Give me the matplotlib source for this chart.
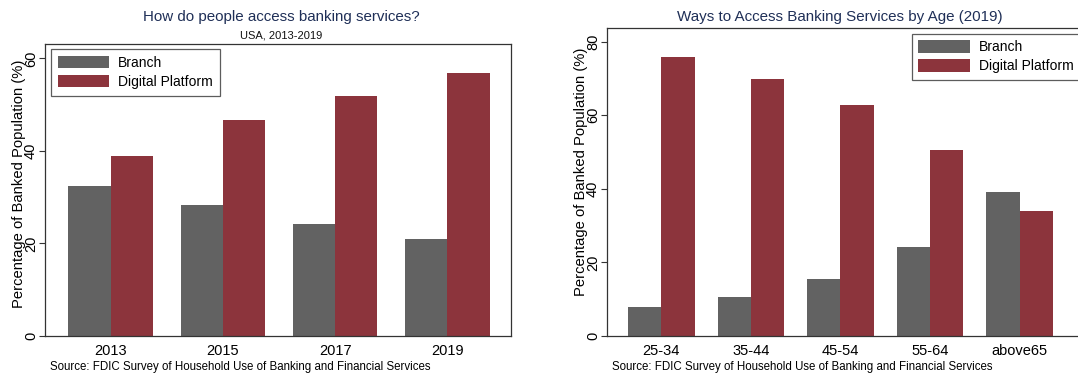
import matplotlib
matplotlib.use("Agg")
import matplotlib.pyplot as plt
import numpy as np

plt.rcParams['font.family'] = ['Liberation Sans', 'DejaVu Sans']

years = ["2013", "2015", "2017", "2019"]
branch_year = [32.5, 28.3, 24.3, 20.9]
digital_year = [38.9, 46.6, 51.9, 56.9]

ages = ["25-34", "35-44", "45-54", "55-64", "above65"]
branch_age = [7.9, 10.5, 15.4, 24.2, 39.0]
digital_age = [75.9, 69.8, 62.9, 50.5, 34.0]

series_labels = ["Branch", "Digital Platform"]
left_yticks = [0, 20, 40, 60]
right_yticks = [0, 20, 40, 60, 80]

GRAY = "#626262"
RED = "#8c343c"
TITLE_C = "#1f2f57"
W, H = 1078, 377

fig = plt.figure(figsize=(W / 100, H / 100), dpi=100)
fig.patch.set_facecolor("white")


def px_axes(x0, y0, x1, y1):
    return fig.add_axes([x0 / W, 1 - y1 / H, (x1 - x0) / W, (y1 - y0) / H])


def style(ax, cats, yticks, ylim, xlim, lab_x, lab_y):
    ax.set_ylim(*ylim)
    ax.set_xlim(*xlim)
    ax.set_xticks(np.arange(len(cats)))
    ax.set_xticklabels(cats, fontsize=10.5)
    ax.tick_params(axis="x", length=0, pad=6)
    ax.set_yticks(yticks)
    ax.set_yticklabels([str(t) for t in yticks], fontsize=10.5, rotation=90, va="center")
    ax.tick_params(axis="y", length=4.5, width=0.8, pad=0.5, direction="out", color="#333333")
    for s in ax.spines.values():
        s.set_color("#333333")
        s.set_linewidth(0.9)
    ax.set_ylabel("Percentage of Banked Population (%)", fontsize=10.6)
    ax.yaxis.set_label_coords(lab_x, lab_y)


def bars(ax, b, d, width):
    x = np.arange(len(b))
    h1 = ax.bar(x - width / 2, b, width, color=GRAY, label=series_labels[0], zorder=2)
    h2 = ax.bar(x + width / 2, d, width, color=RED, label=series_labels[1], zorder=2)
    return h1, h2


# Left chart
ax1 = px_axes(45, 44, 511, 336)
bars(ax1, branch_year, digital_year, 0.377)
style(ax1, years, left_yticks, (0, 63.1), (-0.585, 3.567), -0.041, 0.521)
leg1 = ax1.legend(loc="upper left", bbox_to_anchor=((51 - 45) / 466, 1 - (49 - 44) / 292),
                  fontsize=10, frameon=True, fancybox=False, edgecolor="#333333",
                  handlelength=3.7, handleheight=1.0, handletextpad=0.65,
                  borderpad=0.5, labelspacing=0.35, borderaxespad=0)
leg1.get_frame().set_linewidth(0.9)
fig.text(281 / W, 1 - 17 / H, "How do people access banking services?", ha="center", va="center",
         fontsize=10.9, color=TITLE_C)
fig.text(281 / W, 1 - 36 / H, "USA, 2013-2019", ha="center", va="center", fontsize=8, color="#111111")
fig.text(50 / W, 1 - 367 / H, "Source: FDIC Survey of Household Use of Banking and Financial Services",
         ha="left", va="center", fontsize=8.3)

# Right chart (cropped on the right, as in the reference)
ax2 = px_axes(607, 28, 1088, 336)
bars(ax2, branch_age, digital_age, 0.373)
style(ax2, ages, right_yticks, (0, 83.7), (-0.608, 4.765), -0.0395, 0.532)
leg2 = ax2.legend(loc="upper left", bbox_to_anchor=((911.5 - 607) / 481, 1 - (33.5 - 28) / 308),
                  fontsize=10, frameon=True, fancybox=False, edgecolor="#333333",
                  handlelength=3.7, handleheight=1.0, handletextpad=0.65,
                  borderpad=0.5, labelspacing=0.35, borderaxespad=0)
leg2.get_frame().set_linewidth(0.9)
fig.text(840 / W, 1 - 17 / H, "Ways to Access Banking Services by Age (2019)", ha="center", va="center",
         fontsize=10.9, color=TITLE_C)
fig.text(612 / W, 1 - 367 / H, "Source: FDIC Survey of Household Use of Banking and Financial Services",
         ha="left", va="center", fontsize=8.3)

fig.savefig("out.png", dpi=100)
